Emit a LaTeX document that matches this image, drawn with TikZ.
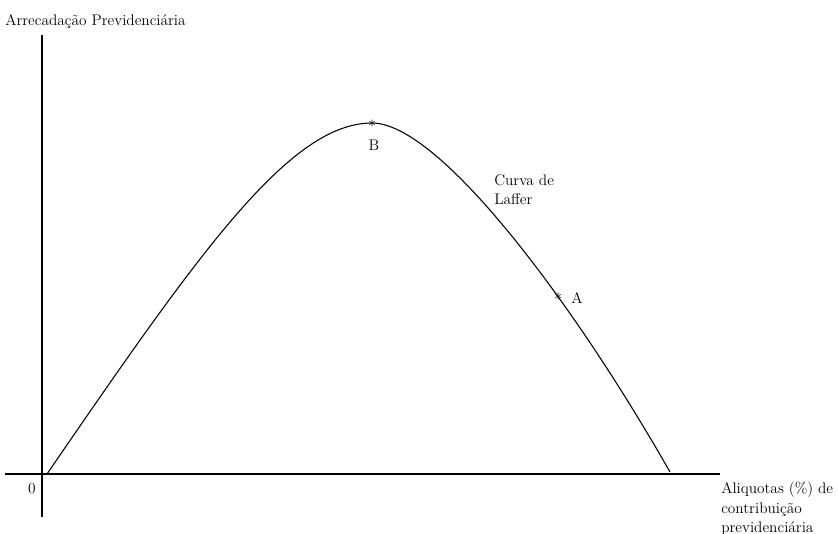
\documentclass[tikz,border=0pt]{standalone}
\begin{document}
\begin{tikzpicture}[x=0.75pt,y=-0.75pt,font=\fontsize{11.5}{14.5}\selectfont]
\useasboundingbox (0,0) rectangle (838,533);
\coordinate (ytop) at (42,35);
\coordinate (ybot) at (42,517);
\coordinate (xleft) at (5,474);
\coordinate (xright) at (720,474);
\coordinate (start) at (47,474);
\coordinate (peak) at (372,123);
\coordinate (end) at (670,472);

\path[draw,line width=0.9pt,-] (ybot) -- (ytop);
\path[draw,line width=0.9pt,-] (xleft) -- (xright);

% curva de Laffer
\path[draw,line width=0.8pt] (start) .. controls (200,251) and (290,123) .. (peak)
  .. controls (440,123) and (575,305) .. (end);

\node[inner sep=0pt,yshift=-0.6pt] (B) at (peak) {$\ast$};
\node[inner sep=0pt,yshift=-0.6pt] (A) at (558,296) {$\ast$};
\node[inner sep=0pt,anchor=base] (lB) at (374,150) {B};
\node[inner sep=0pt,anchor=base west] (lA) at (571,303) {A};
\node[inner sep=0pt,anchor=north west,align=left] (laffer) at (494,174) {Curva de\\Laffer};
\node[inner sep=0pt,anchor=base west] (ylab) at (5,25) {Arrecadação Previdenciária};
\node[inner sep=0pt,anchor=base] (zero) at (32,493) {0};
\node[inner sep=0pt,anchor=north west,align=left] (xlab) at (721,482) {Aliquotas (\%) de\\contribuição\\previdenciária};
\end{tikzpicture}
\end{document}
